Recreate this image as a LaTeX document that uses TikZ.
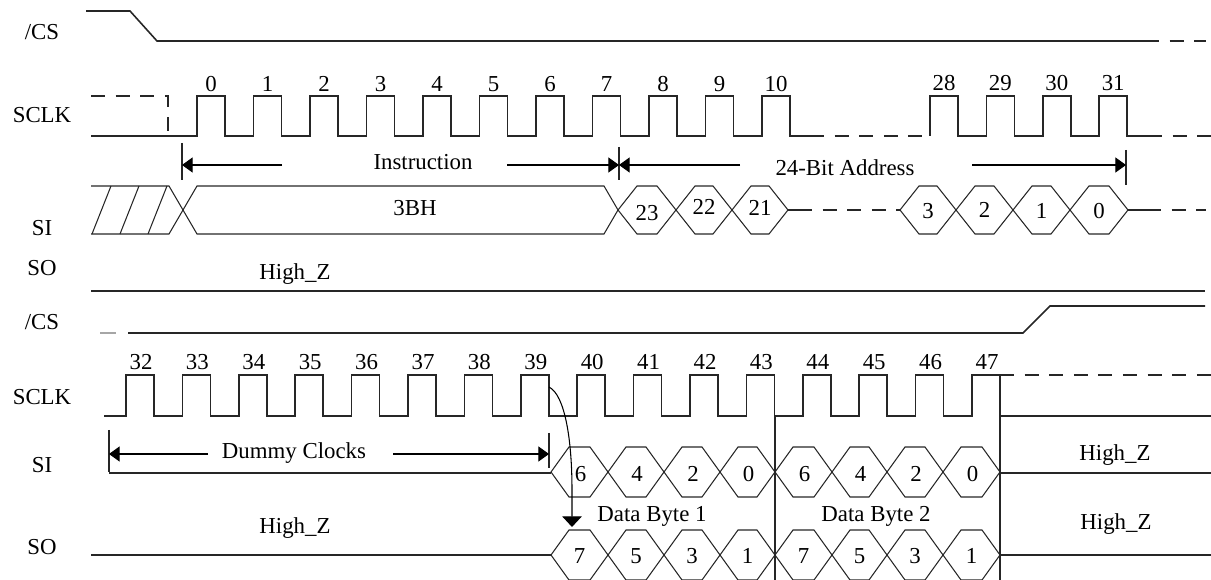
\documentclass[tikz,border=0pt]{standalone}
\usepackage{fontspec}
\setmainfont{Liberation Serif}
\usepackage{tikz}
\usetikzlibrary{arrows.meta,calc}

\tikzset{
  sig/.style={line width=0.9pt, black!85},
  thin/.style={line width=0.6pt, black!85},
  dsig/.style={sig, dash pattern=on 8pt off 6pt},
  dthin/.style={thin, dash pattern=on 8pt off 6pt},
  lbl/.style={font=\fontsize{13}{15}\selectfont, inner sep=0pt},
  dim/.style={line width=0.6pt, -{Triangle[length=6pt,width=8.5pt]}},
}

\begin{document}
\begin{tikzpicture}[x=0.02cm,y=-0.02cm]
    \useasboundingbox (0,0) rectangle (1211,580);
    %%
    %% signal names
    \node[lbl] (cs1) at (42,32) {/CS};
    \node[lbl] (clk1) at (42,115) {SCLK};
    \node[lbl] (si1) at (42,228) {SI};
    \node[lbl] (so1) at (42,268) {SO};
    \node[lbl] (cs2) at (42,322) {/CS};
    \node[lbl] (clk2) at (42,397) {SCLK};
    \node[lbl] (si2) at (42,465) {SI};
    \node[lbl] (so2) at (42,547) {SO};
    %%
    %% /CS (first part)
    \draw[sig] (86,11) -- (130,11) -- (157,41) -- (1145,41);
    \draw[dsig] (1145,41) -- (1206,41);
    %% SCLK (first part)
    \draw[dsig] (91,96) -- (168,96) -- (168,136);
    \draw[sig] (91,136) \foreach \k in {0,...,10} { -- ({197+56.5*\k},136) -- ++(0,-40) -- ++(28,0) -- ++(0,40) } -- (810,136);
    \draw[dsig] (810,136) -- (930,136);
    \draw[sig] (930,136) \foreach \k in {0,...,3} { -- ({930+56.4*\k},136) -- ++(0,-40) -- ++(28,0) -- ++(0,40) } -- (1148,136);
    \draw[dsig] (1148,136) -- (1211,136);
    \foreach \k in {0,...,10}
    {
    \node[lbl] (n\k) at ({211+56.5*\k},84) {\k};
    }
    \foreach \k [count=\i from 0] in {28,...,31}
    {
    \node[lbl] (n\k) at ({944+56.4*\i},83) {\k};
    }
    %%
    %% Instruction / address span
    \coordinate (t0) at (182,165);
    \coordinate (t1) at (619,165);
    \coordinate (t2) at (1126,165);
    \coordinate (iL) at (282,165);
    \coordinate (iR) at (507,165);
    \coordinate (aL) at (740,165);
    \coordinate (aR) at (972,165);
    \draw[thin] (182,143) -- (182,180) (619,147) -- (619,180) (1126,150) -- (1126,185);
    \node[lbl] (ins) at (423,162) {Instruction};
    \node[lbl] (adr) at (845,168) {24-Bit Address};
    \draw[dim] (iL) -- (t0);
    \draw[dim] (iR) -- (t1);
    \draw[dim] (aL) -- (t1);
    \draw[dim] (aR) -- (t2);
    %%
    %% SI (first part)
    \draw[thin] (91,186) -- (169,186) -- (183,210) -- (169,234) -- (91,234);
    \foreach \s in {92,120,148}
    {
    \draw[thin] (\s,234) -- ++(19,-48);
    }
    \draw[thin] (183,210) -- (197,186) -- (604,186) -- (618,210) -- (604,234) -- (197,234) -- cycle;
    \node[lbl] (cmd) at (415,208) {3BH};
    \foreach \a/\b/\t/\h in {618/676/23/213, 676/732/22/207, 732/788/21/208, 900/956/3/211, 956/1013/2/210, 1013/1070/1/211, 1070/1128/0/211}
    {
    \draw[thin] (\a,210) -- ({\a+19},186) -- ({\b-19},186) -- (\b,210) -- ({\b-19},234) -- ({\a+19},234) -- cycle;
    \node[lbl] (b\t) at ({(\a+\b)/2},\h) {\t};
    }
    \draw[thin] (788,210) -- (798,210) (1128,210) -- (1147,210);
    \draw[dthin] (798,210) -- (900,210) (1147,210) -- (1206,210);
    %% SO (first part)
    \draw[line width=1.3pt, black!85] (91,291) -- (1205,291);
    \node[lbl] (hz1) at (295,274) {High\_Z};
    %%
    %% /CS (second part)
    \draw[sig, black!35] (100,333) -- (116,333);
    \draw[sig] (128,333) -- (1023,333) -- (1050,306) -- (1205,306);
    %% SCLK (second part)
    \draw[sig] (104,416) \foreach \k in {0,...,15} { -- ({126+56.4*\k},416) -- ++(0,-41) -- ++(28,0) -- ++(0,41) } -- (1211,416);
    \draw[dsig] (1000,375) -- (1211,375);
    \draw[sig] (775,416) -- (775,580) (1000,416) -- (1000,580);
    \foreach \k [count=\i from 0] in {32,...,47}
    {
    \node[lbl] (n\k) at ({141+56.4*\i},362) {\k};
    }
    %%
    %% dummy clocks span
    \coordinate (d0) at (109,454);
    \coordinate (d1) at (549,454);
    \coordinate (dL) at (208,454);
    \coordinate (dR) at (393,454);
    \draw[thin] (109,430) -- (109,472) (549,433) -- (549,468);
    \node[lbl] (dum) at (294,453) {Dummy Clocks};
    \draw[dim] (dL) -- (d0);
    \draw[dim] (dR) -- (d1);
    %%
    %% SI / SO data bytes
    \draw[sig] (109,473) -- (551,473) (1000,473) -- (1211,473);
    \draw[sig] (91,555) -- (551,555) (1000,555) -- (1211,555);
    \foreach \a/\b/\s/\o [count=\i] in {551/608/6/7, 608/664/4/5, 664/720/2/3, 720/775/0/1, 775/832/6/7, 832/887/4/5, 887/943/2/3, 943/1000/0/1}
    {
    \draw[thin] (\a,472) -- ({\a+18},447) -- ({\b-18},447) -- (\b,472) -- ({\b-18},497) -- ({\a+18},497) -- cycle;
    \draw[thin] (\a,555) -- ({\a+18},530) -- ({\b-18},530) -- (\b,555) -- ({\b-18},580) -- ({\a+18},580) -- cycle;
    \node[lbl] (s\i) at ({(\a+\b)/2+1},474) {\s};
    \node[lbl] (o\i) at ({(\a+\b)/2},556) {\o};
    }
    \node[lbl] (db1) at (652,516) {Data Byte 1};
    \node[lbl] (db2) at (876,516) {Data Byte 2};
    \node[lbl] (hz2) at (1115,455) {High\_Z};
    \node[lbl] (hz3) at (295,528) {High\_Z};
    \node[lbl] (hz4) at (1116,524) {High\_Z};
    %% clock 39 to first output bit
    \coordinate (e39) at (549,387);
    \coordinate (q7) at (572,527);
    \draw[line width=0.6pt, -{Triangle[length=6pt,width=11pt]}] (e39) .. controls (565,395) and (572,440) .. (572,490) -- (q7);
\end{tikzpicture}
\end{document}
